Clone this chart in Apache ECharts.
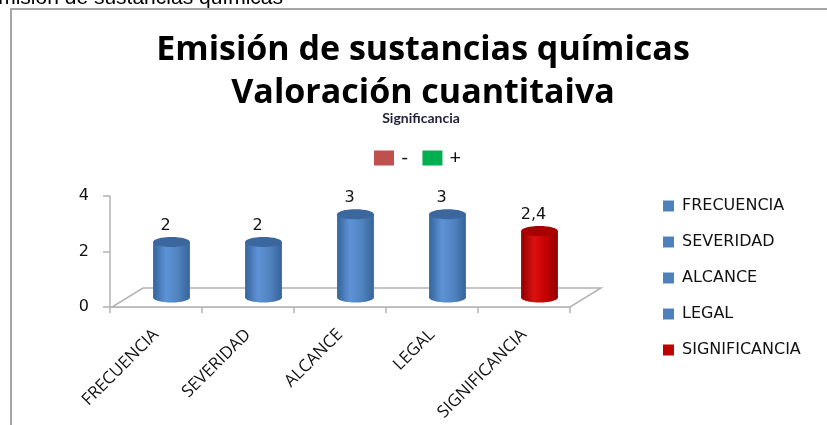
<!DOCTYPE html>
<html>
<head>
<meta charset="utf-8">
<style>
  html, body { margin: 0; padding: 0; background: #fff; }
  #chart { width: 827px; height: 425px; }
</style>
<script src="https://cdn.jsdelivr.net/npm/echarts@6/dist/echarts.min.js"></script>
</head>
<body>
<div id="chart"></div>
<script>
// datos del grafico
var categorias = ['FRECUENCIA', 'SEVERIDAD', 'ALCANCE', 'LEGAL', 'SIGNIFICANCIA'];
var valores = [2, 2, 3, 3, 2.4];
var colores = ['#4f81bd', '#4f81bd', '#4f81bd', '#4f81bd', '#c00000'];
var yTicks = [0, 2, 4];
var leyendaSignif = ['-', '+'];

var chart = echarts.init(document.getElementById('chart'));

// desplazamiento de profundidad (efecto 3D)
var DX = 15.5, DY = -9.5;

function sombra(c) {
  var dark = c === '#c00000' ? '#8e0000' : '#36639a';
  var light = c === '#c00000' ? '#dd1010' : '#5d93d6';
  return new echarts.graphic.LinearGradient(0, 0, 1, 0, [
    { offset: 0, color: dark },
    { offset: 0.35, color: light },
    { offset: 0.7, color: c },
    { offset: 1, color: dark }
  ]);
}

function cilindro(params, api) {
  var idx = api.value(0);
  var v = api.value(1);
  var top = api.coord([idx, v]);
  var base = api.coord([idx, 0]);
  var w = api.size([1, 0])[0] * 0.4;
  var cx = top[0] + DX;
  var ty = top[1] + DY;
  var by = base[1] + DY;
  var ry = 5;
  var c = colores[idx];
  var topColor = c === '#c00000' ? '#a80000' : '#3b679e';
  var txt = String(v).replace('.', ',');
  return {
    type: 'group',
    children: [
      { type: 'ellipse', shape: { cx: cx, cy: by, rx: w / 2, ry: ry }, style: { fill: sombra(c) } },
      { type: 'rect', shape: { x: cx - w / 2, y: ty, width: w, height: by - ty }, style: { fill: sombra(c) } },
      { type: 'ellipse', shape: { cx: cx, cy: ty, rx: w / 2, ry: ry }, style: { fill: topColor } },
      { type: 'text', x: cx - 6, y: ty - 16, style: { text: txt, fill: '#111', font: '16px "DejaVu Sans"', align: 'center', verticalAlign: 'middle' } }
    ]
  };
}

function piso(params, api) {
  var cs = params.coordSys;
  var x0 = cs.x + 2, x1 = cs.x + cs.width, y = cs.y + cs.height;
  return {
    type: 'polygon',
    shape: { points: [[x0, y], [x1, y], [x1 + 2 * DX, y + 2 * DY], [x0 + 2 * DX, y + 2 * DY]] },
    style: { fill: '#fff', stroke: '#b3b3b3', lineWidth: 1.5 }
  };
}

var series = [{
  type: 'custom',
  name: '__piso',
  data: [[0, 0]],
  renderItem: piso,
  silent: true,
  z: 1
}];
categorias.forEach(function (cat, i) {
  series.push({
    type: 'custom',
    name: cat,
    itemStyle: { color: colores[i] },
    data: [[i, valores[i]]],
    renderItem: cilindro,
    z: 3
  });
});
series.push({ type: 'custom', name: '-', itemStyle: { color: '#c0504d' }, data: [], renderItem: function () { return null; } });
series.push({ type: 'custom', name: '+', itemStyle: { color: '#00b050' }, data: [], renderItem: function () { return null; } });

var option = {
  backgroundColor: '#fff',
  animation: false,
  title: [{
    text: 'Emisión de sustancias químicas\nValoración cuantitaiva',
    left: 418,
    top: 24,
    textAlign: 'center',
    textStyle: { fontFamily: 'Open Sans', fontWeight: 'bold', fontSize: 34, color: '#000', lineHeight: 43 }
  }, {
    text: 'Significancia',
    left: 416,
    top: 106,
    textAlign: 'center',
    textStyle: { fontFamily: 'Lato', fontWeight: 'bold', fontSize: 14, color: '#1f1f3a' }
  }],
  legend: [{
    data: categorias,
    orient: 'vertical',
    left: 663,
    top: 198,
    padding: 0,
    itemWidth: 11,
    itemHeight: 11,
    itemGap: 20,
    icon: 'rect',
    textStyle: { fontFamily: 'DejaVu Sans', fontSize: 16, color: '#111', padding: [0, 0, 0, 3] }
  }, {
    data: leyendaSignif,
    orient: 'horizontal',
    left: 374,
    top: 148,
    padding: 0,
    itemWidth: 20,
    itemHeight: 15,
    itemGap: 14,
    icon: 'rect',
    textStyle: { fontFamily: 'Lato', fontSize: 20, color: '#111', padding: [0, 0, 0, 2] }
  }],
  grid: { left: 110, top: 196, right: 257, bottom: 118 },
  xAxis: {
    type: 'category',
    data: categorias,
    axisLine: { lineStyle: { color: '#b3b3b3', width: 1.5 } },
    axisTick: { show: true, length: 6, lineStyle: { color: '#b3b3b3', width: 1.5 } },
    axisLabel: { rotate: 45, margin: 25, fontFamily: 'Open Sans', fontSize: 17, color: '#111', interval: 0 },
    splitLine: { show: false }
  },
  yAxis: {
    type: 'value',
    min: 0,
    max: 4,
    interval: 2,
    axisLine: { show: true, lineStyle: { color: '#b3b3b3', width: 1.5 } },
    axisTick: { show: true, length: 7, lineStyle: { color: '#b3b3b3', width: 1.5 } },
    axisLabel: { margin: 21, fontFamily: 'DejaVu Sans', fontSize: 16, color: '#111',
      formatter: function (v) { return yTicks.indexOf(v) >= 0 ? String(v) : ''; } },
    splitLine: { show: false }
  },
  graphic: [
    { type: 'rect', shape: { x: 11, y: 9, width: 840, height: 440 }, style: { fill: 'none', stroke: '#a6a6a6', lineWidth: 2 }, silent: true },
    { type: 'text', x: 283, y: 9, style: { text: 'Emisión de sustancias químicas', font: '21px "Liberation Sans"', fill: '#000', align: 'right', verticalAlign: 'bottom' }, silent: true }
  ],
  series: series
};
chart.setOption(option);
</script>
</body>
</html>
